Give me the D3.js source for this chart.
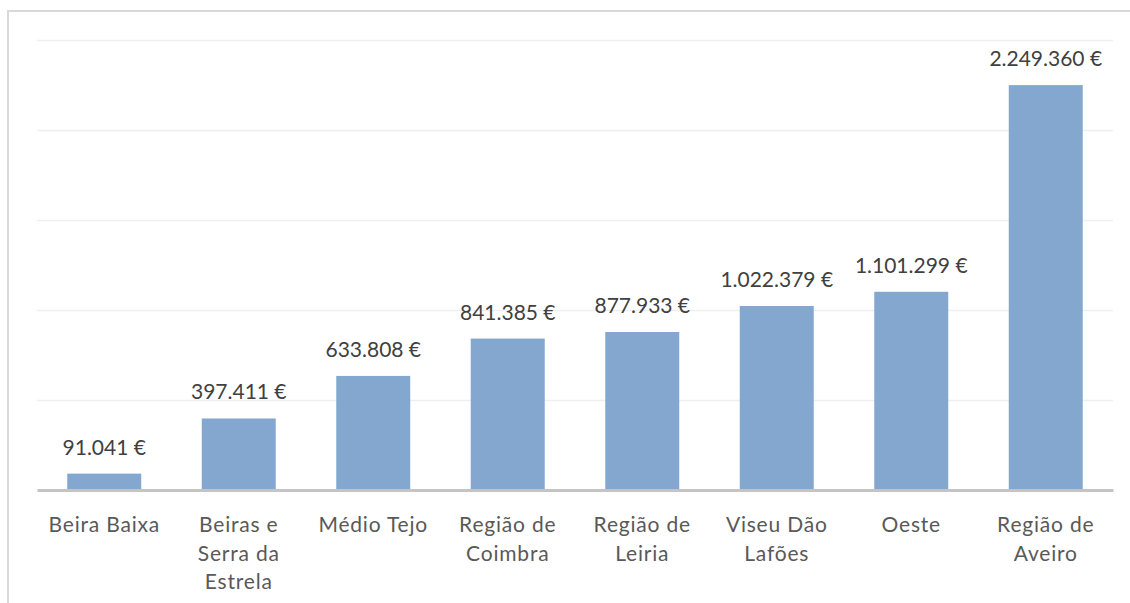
<!DOCTYPE html>
<html>
<head>
<meta charset="utf-8">
<script src="https://cdn.jsdelivr.net/npm/d3@7/dist/d3.min.js"></script>
<style>
  html, body { margin: 0; padding: 0; background: #fff; }
  svg { display: block; }
  text { font-family: Lato, "Open Sans", sans-serif; }
</style>
</head>
<body>
<script>
const categories = ["Beira Baixa", "Beiras e Serra da Estrela", "Médio Tejo", "Região de Coimbra", "Região de Leiria", "Viseu Dão Lafões", "Oeste", "Região de Aveiro"];
const values = [91041, 397411, 633808, 841385, 877933, 1022379, 1101299, 2249360];
const yTicks = [0, 500000, 1000000, 1500000, 2000000, 2500000];

(function () {
const W = 1130, H = 603;
const svg = d3.select("body").append("svg").attr("width", W).attr("height", H);

// outer chart border (top and left visible)
svg.append("path")
  .attr("d", `M8,${H + 2} L8,11 L${W + 2},11`)
  .attr("fill", "none").attr("stroke", "#d9d9d9").attr("stroke-width", 2);

const mLeft = 37, mRight = 1113, mTop = 40, mBottom = 490;

const x = d3.scaleBand().domain(categories).range([mLeft, mRight]).paddingInner(0.45).paddingOuter(0.225);
const y = d3.scaleLinear().domain([0, 2500000]).range([mBottom, mTop]);

// gridlines
const grid = svg.append("g")
  .attr("transform", `translate(${mLeft},0)`)
  .call(d3.axisLeft(y).tickValues(yTicks.slice(1)).tickSize(-(mRight - mLeft)).tickFormat(""));
grid.select(".domain").remove();
grid.selectAll(".tick line").attr("stroke", "#efefef").attr("stroke-width", 1.5);

// bars
svg.append("g").selectAll("rect").data(values).join("rect")
  .attr("x", (d, i) => x(categories[i]))
  .attr("width", x.bandwidth())
  .attr("y", d => y(d))
  .attr("height", d => y(0) - y(d))
  .attr("fill", "#84a7d0");

// value labels
const loc = d3.formatLocale({ decimal: ",", thousands: ".", grouping: [3], currency: ["", " €"] });
const fmt = loc.format(",.0f");
svg.append("g").selectAll("text").data(values).join("text")
  .attr("x", (d, i) => x(categories[i]) + x.bandwidth() / 2)
  .attr("y", d => y(d) - 19)
  .attr("text-anchor", "middle")
  .attr("font-size", 21)
  .attr("fill", "#404040")
  .text(d => fmt(d) + " €");

// x axis
const xAxis = svg.append("g")
  .attr("transform", `translate(0,${mBottom})`)
  .call(d3.axisBottom(x).tickSize(0).tickPadding(0));
xAxis.select(".domain").attr("stroke", "#c4c4c4").attr("stroke-width", 3);
xAxis.selectAll(".tick text")
  .attr("font-size", 21)
  .attr("fill", "#595959")
  .attr("letter-spacing", "0.8px")
  .attr("font-family", "Lato, sans-serif")
  .each(function (d) {
    const t = d3.select(this);
    const words = d.split(" ");
    t.text(null);
    const lines = [];
    let line = [];
    const probe = t.append("tspan");
    words.forEach(w => {
      const trial = line.concat([w]).join(" ");
      probe.text(trial);
      if (probe.node().getComputedTextLength() > 122 && line.length) {
        lines.push(line.join(" "));
        line = [w];
      } else {
        line.push(w);
      }
    });
    lines.push(line.join(" "));
    probe.remove();
    lines.forEach((l, i) => {
      t.append("tspan").attr("x", 0).attr("y", 42 + i * 28.5).text(l);
    });
    t.attr("dy", null);
  });
})();
</script>
</body>
</html>
